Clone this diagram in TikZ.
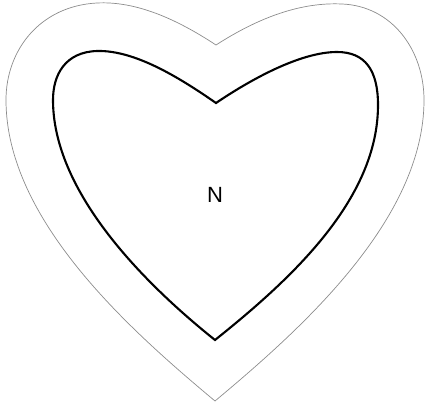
\documentclass[tikz,border=0pt]{standalone}
\usepackage{fontspec}
\setmainfont{Liberation Sans}
\begin{document}
\begin{tikzpicture}[x=1pt,y=-1pt,
  outerheart/.style={draw=black!45,line width=0.7pt},
  innerheart/.style={draw=black,line width=2.1pt,line join=miter},
  lbl/.style={font=\fontsize{22}{26}\selectfont}]
\useasboundingbox (0,0) rectangle (425,406);
\draw[outerheart] (216,45) .. controls (175,18) and (135,1) .. (97,3)
  .. controls (40,6) and (6,50) .. (6,100)
  .. controls (6,220) and (130,330) .. (215,401)
  .. controls (300,330) and (424,220) .. (424,100)
  .. controls (424,50) and (392,6) .. (342,4)
  .. controls (300,2) and (258,18) .. cycle;
\draw[innerheart] (216,103) .. controls (180,78) and (135,50) .. (97,51)
  .. controls (65,52) and (53,75) .. (53,100)
  .. controls (53,190) and (140,280) .. (215,340)
  .. controls (290,280) and (378,200) .. (378,105)
  .. controls (378,70) and (365,52) .. (337,52)
  .. controls (300,52) and (250,80) .. cycle;
\node[lbl] (n) at (215,195) {N};
\end{tikzpicture}
\end{document}
